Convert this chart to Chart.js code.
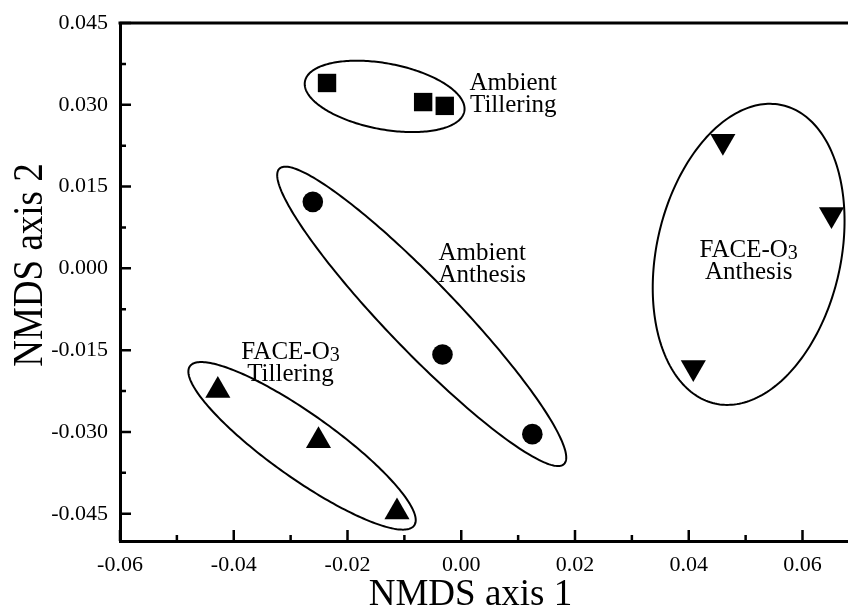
<!DOCTYPE html>
<html>
<head>
<meta charset="utf-8">
<script src="https://cdn.jsdelivr.net/npm/chart.js@4"></script>
<style>
  html, body { margin: 0; padding: 0; background: #fff; overflow: hidden; }
  #wrap { width: 848px; height: 608px; }
</style>
</head>
<body>
<div id="wrap"><canvas id="nmdsChart"></canvas></div>
<script>
const groups = ['Ambient Tillering', 'Ambient Anthesis', 'FACE-O3 Tillering', 'FACE-O3 Anthesis'];
const ambientTilleringX = [-0.0236, -0.0067, -0.0029];
const ambientTilleringY = [0.0340, 0.0305, 0.0298];
const ambientAnthesisX = [-0.0261, -0.0033, 0.0125];
const ambientAnthesisY = [0.0122, -0.0158, -0.0304];
const faceTilleringX = [-0.0428, -0.0251, -0.0113];
const faceTilleringY = [-0.0224, -0.0316, -0.0447];
const faceAnthesisX = [0.0460, 0.0651, 0.0408];
const faceAnthesisY = [0.0233, 0.0099, -0.0182];

const xTickValues = [-0.06, -0.04, -0.02, 0, 0.02, 0.04, 0.06];
const xTickLabels = ['-0.06', '-0.04', '-0.02', '0.00', '0.02', '0.04', '0.06'];
const xMinorTicks = [-0.05, -0.03, -0.01, 0.01, 0.03, 0.05];
const yTickValues = [-0.045, -0.03, -0.015, 0, 0.015, 0.03, 0.045];
const yTickLabels = ['-0.045', '-0.030', '-0.015', '0.000', '0.015', '0.030', '0.045'];
const yMinorTicks = [-0.0375, -0.0225, -0.0075, 0.0075, 0.0225, 0.0375];

// group ellipses: centre plus the two semi-axis vectors, in data units
const ellipseCentres = [[-0.01347, 0.03154], [-0.00695, -0.00880], [-0.02799, -0.03255], [0.05053, 0.00257]];
const ellipseAxisA = [[0.01401, -0.00275], [0.02502, -0.02709], [0.01972, -0.01460], [0.00592, 0.02736]];
const ellipseAxisB = [[-0.00108, -0.00594], [-0.00444, -0.00445], [-0.00326, -0.00479], [0.01579, -0.00370]];

const labelLines = [['Ambient', 'Tillering'], ['Ambient', 'Anthesis'], ['FACE-O3', 'Tillering'], ['FACE-O3', 'Anthesis']];
const labelAnchors = [[0.00915, 0.03176], [0.0037, 0.00068], [-0.03002, -0.01755], [0.05053, 0.00119]];

const seriesX = [ambientTilleringX, ambientAnthesisX, faceTilleringX, faceAnthesisX];
const seriesY = [ambientTilleringY, ambientAnthesisY, faceTilleringY, faceAnthesisY];
const markerStyle = ['rect', 'circle', 'triangle', 'triangle'];
const markerRadius = [13, 10.3, 14.5, 14.5];
const markerRotation = [0, 0, 0, 180];

const serif = '"Liberation Serif", "Times New Roman", serif';

function toPx(chart, p) {
  return [chart.scales.x.getPixelForValue(p[0]), chart.scales.y.getPixelForValue(p[1])];
}

const ellipsePlugin = {
  id: 'ellipses',
  beforeDatasetsDraw(chart) {
    const ctx = chart.ctx;
    ctx.save();
    ctx.strokeStyle = '#000';
    ctx.lineWidth = 2;
    ellipseCentres.forEach((c, i) => {
      const a = ellipseAxisA[i];
      const b = ellipseAxisB[i];
      ctx.beginPath();
      for (let k = 0; k <= 240; k++) {
        const t = (k / 240) * Math.PI * 2;
        const p = toPx(chart, [
          c[0] + a[0] * Math.cos(t) + b[0] * Math.sin(t),
          c[1] + a[1] * Math.cos(t) + b[1] * Math.sin(t),
        ]);
        if (k === 0) ctx.moveTo(p[0], p[1]);
        else ctx.lineTo(p[0], p[1]);
      }
      ctx.closePath();
      ctx.stroke();
    });
    ctx.restore();
  },
};

function drawLabelLine(ctx, text, cx, y) {
  const m = text.match(/^(.*O)(\d)$/);
  if (!m) {
    ctx.textAlign = 'center';
    ctx.fillText(text, cx, y);
    return;
  }
  ctx.font = '25px ' + serif;
  const w1 = ctx.measureText(m[1]).width;
  ctx.font = '20px ' + serif;
  const w2 = ctx.measureText(m[2]).width;
  const x0 = cx - (w1 + w2) / 2;
  ctx.textAlign = 'left';
  ctx.font = '25px ' + serif;
  ctx.fillText(m[1], x0, y);
  ctx.font = '20px ' + serif;
  ctx.fillText(m[2], x0 + w1, y + 2);
  ctx.font = '25px ' + serif;
}

const framePlugin = {
  id: 'frame',
  afterDraw(chart) {
    const ctx = chart.ctx;
    const area = chart.chartArea;
    const xs = chart.scales.x;
    const ys = chart.scales.y;
    ctx.save();
    ctx.strokeStyle = '#000';
    ctx.fillStyle = '#000';

    // top border
    ctx.lineWidth = 3;
    ctx.beginPath();
    ctx.moveTo(area.left - 1.5, area.top);
    ctx.lineTo(area.right, area.top);
    ctx.stroke();

    // inward ticks
    ctx.lineWidth = 2.5;
    ctx.beginPath();
    xTickValues.forEach((v) => {
      const px = xs.getPixelForValue(v);
      ctx.moveTo(px, area.bottom);
      ctx.lineTo(px, area.bottom - 11);
    });
    xMinorTicks.forEach((v) => {
      const px = xs.getPixelForValue(v);
      ctx.moveTo(px, area.bottom);
      ctx.lineTo(px, area.bottom - 6);
    });
    yTickValues.forEach((v) => {
      const py = ys.getPixelForValue(v);
      ctx.moveTo(area.left, py);
      ctx.lineTo(area.left + 11, py);
    });
    yMinorTicks.forEach((v) => {
      const py = ys.getPixelForValue(v);
      ctx.moveTo(area.left, py);
      ctx.lineTo(area.left + 6, py);
    });
    ctx.stroke();

    // group labels
    ctx.font = '25px ' + serif;
    ctx.textBaseline = 'alphabetic';
    labelLines.forEach((lines, i) => {
      const p = toPx(chart, labelAnchors[i]);
      drawLabelLine(ctx, lines[0], p[0], p[1] - 5);
      drawLabelLine(ctx, lines[1], p[0], p[1] + 17);
    });

    // axis titles
    ctx.font = '37px ' + serif;
    ctx.textAlign = 'center';
    ctx.fillText('NMDS axis 1', 470.5, 605);
    ctx.translate(42, 265);
    ctx.rotate(-Math.PI / 2);
    ctx.scale(1, 1.15);
    ctx.fillText('NMDS axis 2', 0, 0);
    ctx.restore();
  },
};

new Chart(document.getElementById('nmdsChart'), {
  type: 'scatter',
  data: {
    datasets: groups.map((g, i) => ({
      label: g,
      data: seriesX[i].map((x, j) => ({ x: x, y: seriesY[i][j] })),
      pointStyle: markerStyle[i],
      pointRadius: markerRadius[i],
      pointHoverRadius: markerRadius[i],
      pointRotation: markerRotation[i],
      backgroundColor: '#000',
      borderColor: '#000',
      borderWidth: 0,
    })),
  },
  options: {
    responsive: true,
    maintainAspectRatio: false,
    animation: false,
    layout: { autoPadding: false, padding: { top: 23, right: 0, left: 0, bottom: 0 } },
    plugins: {
      legend: { display: false },
      tooltip: { enabled: false },
    },
    scales: {
      x: {
        type: 'linear',
        min: -0.06,
        max: 0.068,
        grid: { display: false, drawTicks: false },
        border: { display: true, width: 3, color: '#000' },
        ticks: {
          color: '#000',
          font: { family: serif, size: 22 },
          padding: 11,
          autoSkip: false,
          maxRotation: 0,
          callback: (value, index) => xTickLabels[index],
        },
        afterBuildTicks: (scale) => {
          scale.ticks = xTickValues.map((v) => ({ value: v }));
        },
        afterFit: (scale) => {
          scale.height = 67;
          scale.paddingLeft = 0;
          scale.paddingRight = 0;
        },
      },
      y: {
        type: 'linear',
        min: -0.05,
        max: 0.045,
        grid: { display: false, drawTicks: false },
        border: { display: true, width: 3, color: '#000' },
        ticks: {
          color: '#000',
          font: { family: serif, size: 22 },
          padding: 12,
          autoSkip: false,
          callback: (value, index) => yTickLabels[index],
        },
        afterBuildTicks: (scale) => {
          scale.ticks = yTickValues.map((v) => ({ value: v }));
        },
        afterFit: (scale) => {
          scale.width = 120;
          scale.paddingTop = 0;
          scale.paddingBottom = 0;
        },
      },
    },
  },
  plugins: [ellipsePlugin, framePlugin],
});
</script>
</body>
</html>
